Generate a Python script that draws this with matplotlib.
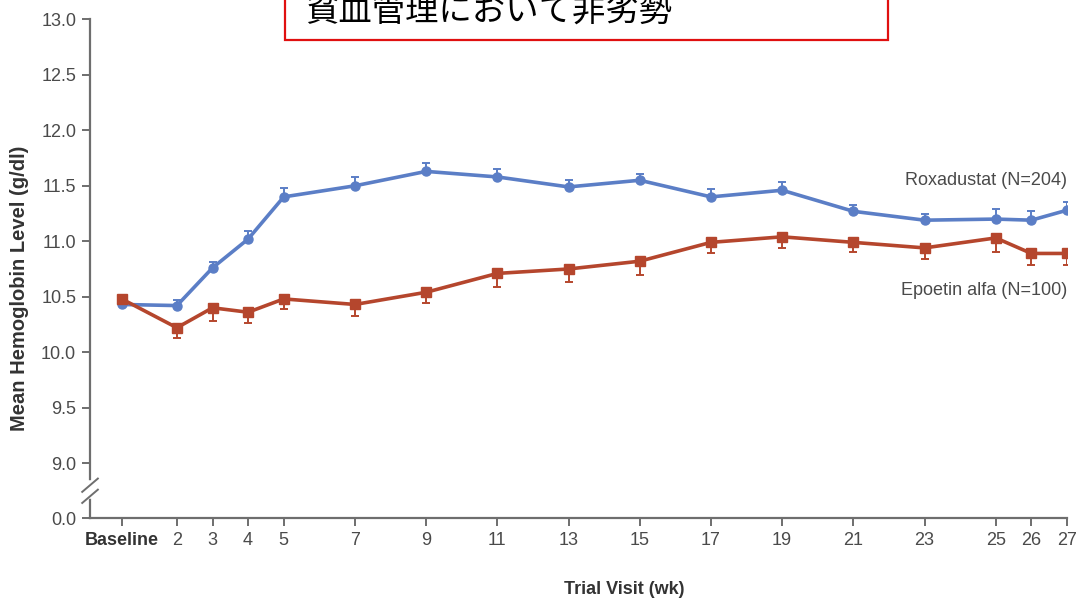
import matplotlib
matplotlib.use("Agg")
import matplotlib.pyplot as plt
from matplotlib.patches import Rectangle
from matplotlib.lines import Line2D

plt.rcParams['font.family'] = ['Liberation Sans', 'Noto Sans CJK JP', 'DejaVu Sans']

# trial visits in weeks (0 = baseline)
weeks = [0, 2, 3, 4, 5, 7, 9, 11, 13, 15, 17, 19, 21, 23, 25, 26, 27]
week_labels = ['Baseline', '2', '3', '4', '5', '7', '9', '11', '13', '15',
               '17', '19', '21', '23', '25', '26', '27']

roxa_mean = [10.43, 10.42, 10.76, 11.02, 11.40, 11.50, 11.63, 11.58, 11.49,
             11.55, 11.40, 11.46, 11.27, 11.19, 11.20, 11.19, 11.28]
roxa_err = [0.02, 0.05, 0.05, 0.07, 0.08, 0.08, 0.08, 0.07, 0.06,
            0.06, 0.07, 0.07, 0.06, 0.06, 0.09, 0.08, 0.07]

epo_mean = [10.48, 10.22, 10.40, 10.36, 10.48, 10.43, 10.54, 10.71, 10.75,
            10.82, 10.99, 11.04, 10.99, 10.94, 11.03, 10.89, 10.89]
epo_err = [0.03, 0.09, 0.12, 0.10, 0.09, 0.10, 0.10, 0.12, 0.12,
           0.12, 0.10, 0.10, 0.09, 0.10, 0.13, 0.10, 0.10]

y_ticks = [9.0, 9.5, 10.0, 10.5, 11.0, 11.5, 12.0, 12.5, 13.0]

roxa_label = 'Roxadustat (N=204)'
epo_label = 'Epoetin alfa (N=100)'
title = '貧血管理において非劣勢'

BLUE = '#5b7ec6'
RED = '#b5462d'
AXIS = '#6e6e6e'
TEXT = '#4a4a4a'

# the baseline visit sits a little after week 0 on the axis
x = [0.45 if w == 0 else w for w in weeks]
# 0.0 is drawn one step below 9.0 across an axis break
y_floor = 8.5

fig = plt.figure(figsize=(10.77, 6.01), dpi=100)
ax = fig.add_axes([0.0836, 0.1373, 0.9071, 0.8303])

zeros = [0] * len(x)
ax.errorbar(x, roxa_mean, yerr=[zeros, roxa_err], color=BLUE, lw=2.6,
            marker='o', ms=6.5, elinewidth=1.4, capsize=3, capthick=1.4,
            zorder=3)
ax.errorbar(x, epo_mean, yerr=[epo_err, zeros], color=RED, lw=2.6,
            marker='s', ms=6.5, elinewidth=1.4, capsize=3, capthick=1.4,
            zorder=4)

ax.set_xlim(-0.44, 27)
ax.set_ylim(y_floor, 13.0)
ax.set_xticks(x)
ax.set_xticklabels(week_labels)
ax.set_yticks([y_floor] + y_ticks)
ax.set_yticklabels(['0.0'] + ['%.1f' % v for v in y_ticks])

for side in ['top', 'right']:
    ax.spines[side].set_visible(False)
for side in ['left', 'bottom']:
    ax.spines[side].set_color(AXIS)
    ax.spines[side].set_linewidth(1.6)
ax.tick_params(axis='both', direction='out', length=6, width=1.4,
               color=AXIS, labelcolor=TEXT, labelsize=13, pad=4)
ax.get_xticklabels()[0].set_fontweight('bold')
ax.get_xticklabels()[0].set_color('#333333')

ax.set_ylabel('Mean Hemoglobin Level (g/dl)', fontsize=14.5,
              fontweight='bold', color='#333333')
ax.yaxis.set_label_coords(-0.062, 0.462)
ax.set_xlabel('Trial Visit (wk)', fontsize=13, fontweight='bold',
              color='#333333')
ax.xaxis.set_label_coords(0.547, -0.125)

# axis break marks between 0.0 and 9.0
trans = ax.get_yaxis_transform()
ax.add_line(Line2D([0, 0], [8.70, 8.82], transform=trans, color='white',
                   lw=4, clip_on=False, zorder=5))
for yb in [8.70, 8.80]:
    ax.add_line(Line2D([-0.008, 0.008], [yb - 0.06, yb + 0.06],
                       transform=trans, color=AXIS, lw=1.4,
                       clip_on=False, zorder=6))

ax.text(27, 11.55, roxa_label, ha='right', va='center', fontsize=13,
        color=TEXT)
ax.text(27, 10.56, epo_label, ha='right', va='center', fontsize=13,
        color=TEXT)

# callout box at the top
fig.patches.append(Rectangle((285 / 1077, 1 - 40 / 601), 603 / 1077,
                             80 / 601, transform=fig.transFigure,
                             facecolor='white', edgecolor='#e01010',
                             lw=1.6, zorder=10))
fig.text(305 / 1077, 1 - 29 / 601, title, fontsize=24, color='black',
         family=['Noto Sans CJK JP', 'DejaVu Sans'], ha='left',
         va='bottom', zorder=11)

fig.savefig('out.png', dpi=100)
